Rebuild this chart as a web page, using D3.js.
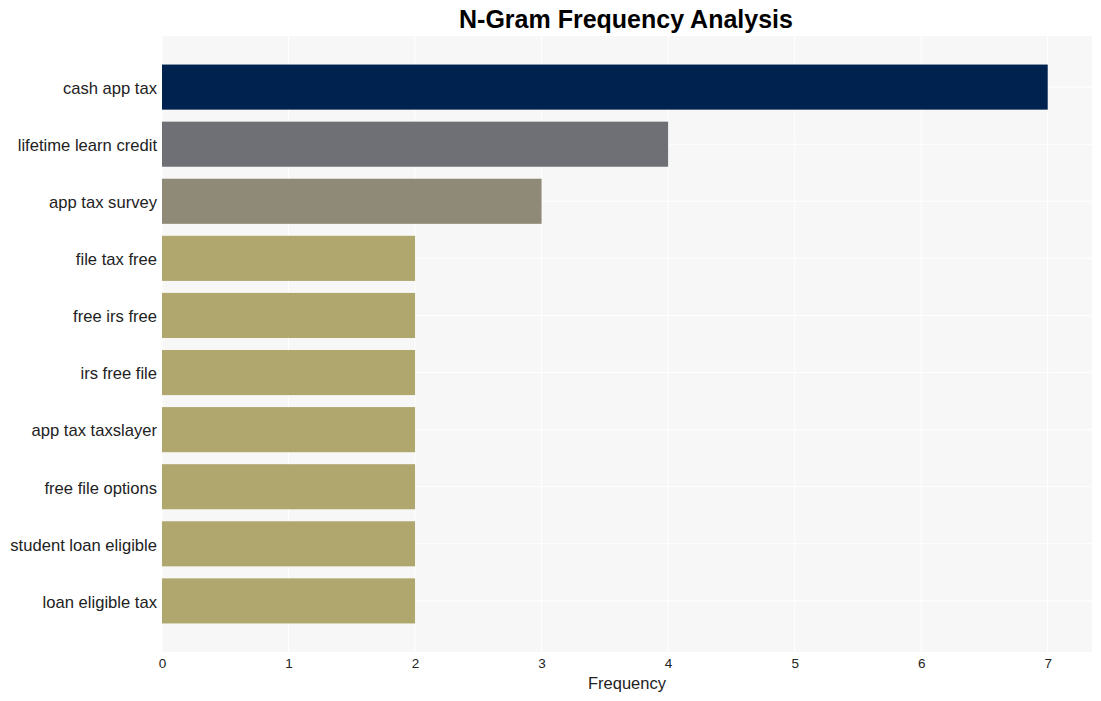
<!DOCTYPE html>
<html>
<head>
<meta charset="utf-8">
<script src="https://cdn.jsdelivr.net/npm/d3@7"></script>
<style>
body { margin: 0; background: #fff; font-family: "Liberation Sans", Arial, sans-serif; }
</style>
</head>
<body>
<script>
"use strict";

var categories = ["cash app tax", "lifetime learn credit", "app tax survey", "file tax free",
    "free irs free", "irs free file", "app tax taxslayer", "free file options",
    "student loan eligible", "loan eligible tax"];
var counts = [7, 4, 3, 2, 2, 2, 2, 2, 2, 2];
var barColors = ["#00224e", "#6f7075", "#8f8a78", "#b0a76f", "#b0a76f", "#b0a76f",
    "#b0a76f", "#b0a76f", "#b0a76f", "#b0a76f"];
var xTicks = [0, 1, 2, 3, 4, 5, 6, 7];

var width = 1101, height = 701;
var margin = {top: 36, right: 9, bottom: 49, left: 162};

var svg = d3.select("body").append("svg")
    .attr("width", width)
    .attr("height", height);

var x = d3.scaleLinear()
    .domain([0, 7.35])
    .range([margin.left, width - margin.right]);

var y = d3.scaleBand()
    .domain(categories)
    .range([margin.top, height - margin.bottom])
    .paddingInner(0.21)
    .paddingOuter(0.5);

// plot background
svg.append("rect")
    .attr("x", margin.left)
    .attr("y", margin.top)
    .attr("width", width - margin.right - margin.left)
    .attr("height", height - margin.bottom - margin.top)
    .attr("fill", "#f7f7f7");

// grid
svg.append("g")
    .selectAll("line")
    .data(xTicks)
    .enter()
    .append("line")
    .attr("x1", function(d) { return x(d); })
    .attr("x2", function(d) { return x(d); })
    .attr("y1", margin.top)
    .attr("y2", height - margin.bottom)
    .attr("stroke", "#fff")
    .attr("stroke-width", 1);

svg.append("g")
    .selectAll("line")
    .data(categories)
    .enter()
    .append("line")
    .attr("x1", margin.left)
    .attr("x2", width - margin.right)
    .attr("y1", function(d) { return y(d) + y.bandwidth() / 2; })
    .attr("y2", function(d) { return y(d) + y.bandwidth() / 2; })
    .attr("stroke", "#fff")
    .attr("stroke-width", 1);

// bars
svg.append("g")
    .selectAll("rect")
    .data(categories)
    .enter()
    .append("rect")
    .attr("x", x(0))
    .attr("y", function(d) { return y(d); })
    .attr("width", function(d, i) { return x(counts[i]) - x(0); })
    .attr("height", y.bandwidth())
    .attr("fill", function(d, i) { return barColors[i]; });

// x axis
var xAxis = svg.append("g")
    .attr("transform", "translate(0," + (height - margin.bottom) + ")")
    .call(d3.axisBottom(x).tickValues(xTicks).tickFormat(d3.format("d")).tickSize(0).tickPadding(6));
xAxis.select(".domain").remove();
xAxis.selectAll("text")
    .attr("font-family", "'Liberation Sans', Arial, sans-serif")
    .attr("font-size", 13.5)
    .attr("fill", "#222");

// y axis
var yAxis = svg.append("g")
    .attr("transform", "translate(" + margin.left + ",1.5)")
    .call(d3.axisLeft(y).tickSize(0).tickPadding(5));
yAxis.select(".domain").remove();
yAxis.selectAll("text")
    .attr("font-family", "'Liberation Sans', Arial, sans-serif")
    .attr("font-size", 16.6)
    .attr("fill", "#222");

// labels
svg.append("text")
    .attr("x", (margin.left + width - margin.right) / 2)
    .attr("y", 689)
    .attr("text-anchor", "middle")
    .attr("font-size", 16.5)
    .attr("fill", "#222")
    .text("Frequency");

svg.append("text")
    .attr("x", 626)
    .attr("y", 28)
    .attr("text-anchor", "middle")
    .attr("font-size", 25)
    .attr("font-weight", "bold")
    .attr("fill", "#000")
    .text("N-Gram Frequency Analysis");
</script>
</body>
</html>
